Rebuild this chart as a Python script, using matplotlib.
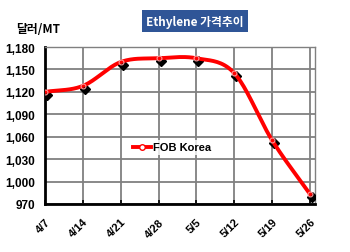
import numpy as np
import matplotlib
matplotlib.use("Agg")
import matplotlib.pyplot as plt
import matplotlib.transforms as mtransforms

dates = ["4/7", "4/14", "4/21", "4/28", "5/5", "5/12", "5/19", "5/26"]
fob_korea = [1120, 1128, 1160, 1165, 1165, 1145, 1055, 983]
yticks = [970, 1000, 1030, 1060, 1090, 1120, 1150, 1180]

plt.rcParams['font.family'] = ['Liberation Sans', 'Noto Sans CJK KR', 'DejaVu Sans']

fig = plt.figure(figsize=(3.5, 2.53), dpi=100)
ax = fig.add_axes([0.1286, 0.19, 0.9 - 0.1286, 0.81 - 0.19])

x = np.arange(len(dates), dtype=float)
y = np.array(fob_korea, dtype=float)

# Catmull-Rom smoothing of the line (rendering only)
def smooth(xs, ys, n=20):
    px = np.concatenate([[2*xs[0]-xs[1]], xs, [2*xs[-1]-xs[-2]]])
    py = np.concatenate([[2*ys[0]-ys[1]], ys, [2*ys[-1]-ys[-2]]])
    ox, oy = [], []
    t = np.linspace(0, 1, n, endpoint=False)
    for i in range(1, len(px) - 2):
        for P, out in ((px, ox), (py, oy)):
            p0, p1, p2, p3 = P[i-1], P[i], P[i+1], P[i+2]
            out.extend(0.5*((2*p1) + (-p0+p2)*t + (2*p0-5*p1+4*p2-p3)*t**2 + (-p0+3*p1-3*p2+p3)*t**3))
    ox.append(xs[-1]); oy.append(ys[-1])
    return np.array(ox), np.array(oy)

sx, sy = smooth(x, y)

shadow = mtransforms.offset_copy(ax.transData, fig=fig, x=2, y=-3, units='dots')
ax.plot(x, y, linestyle='none', marker='D', markersize=5, color='black', transform=shadow, zorder=3)
ax.plot(sx, sy, color='#ff0000', linewidth=2.8, zorder=4)
ax.plot(x, y, linestyle='none', marker='o', markersize=3.5, markerfacecolor='none',
        markeredgecolor='#ff9999', markeredgewidth=0.8, zorder=5)
ax.plot([], [], color='#ff0000', linewidth=2.8, marker='o', markersize=4,
        markerfacecolor='white', markeredgecolor='#ff0000', label='FOB Korea')

ax.set_xlim(0, 7.13)
ax.set_ylim(970, 1180)
ax.set_yticks(yticks)
ax.set_yticklabels([f"{v:,}" for v in yticks], fontsize=8.5, fontweight='bold')
ax.set_xticks(x)
ax.set_xticklabels(dates, rotation=45, ha='right', rotation_mode='anchor', fontsize=8, fontweight='bold')
ax.tick_params(axis='x', length=3, width=1.2, direction='in', pad=9)
ax.tick_params(axis='y', length=0, pad=7)

ax.grid(True, color='#808080', linewidth=1.3)
ax.set_axisbelow(True)
for s in ['top', 'right']:
    ax.spines[s].set_color('#808080')
    ax.spines[s].set_linewidth(1.0)
for s in ['left', 'bottom']:
    ax.spines[s].set_color('black')
    ax.spines[s].set_linewidth(2.0)

leg = ax.legend(loc='center', bbox_to_anchor=(0.47, 0.36), frameon=True, fontsize=8,
                handlelength=1.6, handletextpad=0.2, borderpad=0.2)
leg.get_frame().set_facecolor('white')
leg.get_frame().set_edgecolor('none')
for t in leg.get_texts():
    t.set_fontweight('bold')

fig.text(0.557, 0.913, "Ethylene 가격추이", ha='center', va='center', color='white',
         fontsize=8.5, fontweight='bold', family=['Noto Sans CJK KR', 'DejaVu Sans'],
         bbox=dict(boxstyle='square,pad=0.35', facecolor='#2f5597', edgecolor='none'))
fig.text(0.045, 0.885, "달러/MT", ha='left', va='center', fontsize=8.5, fontweight='bold',
         family=['Noto Sans CJK KR', 'DejaVu Sans'])

fig.savefig("out.png", dpi=100)
